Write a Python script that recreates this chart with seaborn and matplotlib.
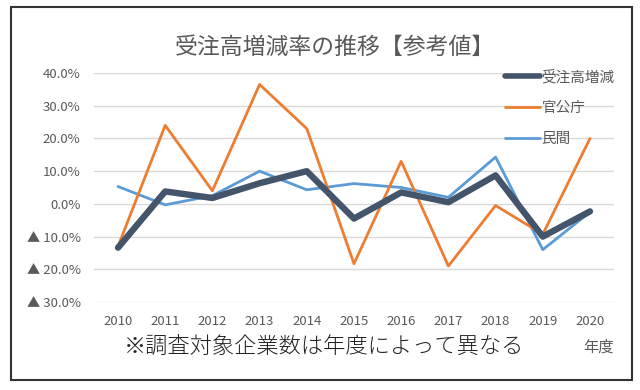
import numpy as np
import pandas as pd
import seaborn as sns
import matplotlib.pyplot as plt
from matplotlib.lines import Line2D
from matplotlib.patches import Rectangle

# 年度と各系列の増減率(%)
years = [2010, 2011, 2012, 2013, 2014, 2015, 2016, 2017, 2018, 2019, 2020]
total = [-13.4, 3.8, 1.8, 6.3, 10.0, -4.5, 3.5, 0.5, 8.7, -10.0, -2.3]
govt = [-13.0, 24.0, 4.0, 36.5, 23.0, -18.3, 13.0, -19.0, -0.5, -9.3, 20.0]
private = [5.3, -0.3, 2.5, 10.0, 4.3, 6.2, 5.0, 2.0, 14.3, -14.0, -2.5]
series_names = ['受注高増減', '官公庁', '民間']
yticks = [40, 30, 20, 10, 0, -10, -20, -30]

df = pd.DataFrame({'年度': years * 3,
                   '値': total + govt + private,
                   '系列': [series_names[0]] * 11 + [series_names[1]] * 11 + [series_names[2]] * 11})

sns.set_style('white')
plt.rcParams['font.family'] = ['Noto Sans CJK JP', 'DejaVu Sans']

colors = {'受注高増減': '#44546A', '官公庁': '#ED7D31', '民間': '#5B9BD5'}
widths = {'受注高増減': 4.6, '官公庁': 2.0, '民間': 2.0}
grey = '#595959'

fig = plt.figure(figsize=(6.4, 3.9), dpi=100)
ax = fig.add_axes([0.1475, 0.2256, 0.8112, 0.5872])

# 系列の描画順: 民間, 官公庁, 受注高増減(最前面)
for name in ['民間', '官公庁', '受注高増減']:
    sub = df[df['系列'] == name]
    sns.lineplot(data=sub, x='年度', y='値', ax=ax, color=colors[name],
                 linewidth=widths[name], solid_joinstyle='round',
                 solid_capstyle='round', legend=False)

ax.set_xlim(2009.5, 2020.5)
ax.set_ylim(-30, 40)
ax.set_xticks(years)
ax.set_xticklabels([str(y) for y in years], fontsize=9.5, color=grey)
ax.set_yticks(yticks)
ax.set_yticklabels([('▲ %.1f%%' % -v) if v < 0 else ('%.1f%%' % v) for v in yticks],
                   fontsize=9.5, color=grey)
ax.tick_params(axis='both', length=0)
ax.tick_params(axis='y', pad=10)
ax.tick_params(axis='x', pad=9)
ax.set_xlabel('')
ax.set_ylabel('')
ax.grid(axis='y', color='#D9D9D9', linewidth=1)
ax.set_axisbelow(True)
for s in ax.spines.values():
    s.set_visible(False)

handles = [Line2D([], [], color=colors[n], linewidth=widths[n] if n != '受注高増減' else 4.0,
                  solid_capstyle='round') for n in series_names]
leg = ax.legend(handles, series_names, loc='upper left', bbox_to_anchor=(0.78, 1.04),
                frameon=False, fontsize=10.5, handlelength=2.4, handletextpad=0.1,
                labelspacing=1.15, borderaxespad=0)
for t in leg.get_texts():
    t.set_color(grey)

fig.text(0.523, 0.879, '受注高増減率の推移【参考値】', ha='center', va='center',
         fontsize=16.5, color=grey)
fig.text(0.506, 0.11, '※調査対象企業数は年度によって異なる', ha='center', va='center',
         fontsize=16, color='#222222', fontweight='light')
fig.text(0.935, 0.11, '年度', ha='center', va='center', fontsize=11, color=grey)

fig.patches.append(Rectangle((11 / 640, 1 - 380 / 390), 621 / 640, 373 / 390,
                             transform=fig.transFigure, fill=False,
                             edgecolor='#333333', linewidth=1.5))

fig.savefig('out.png', dpi=100)
